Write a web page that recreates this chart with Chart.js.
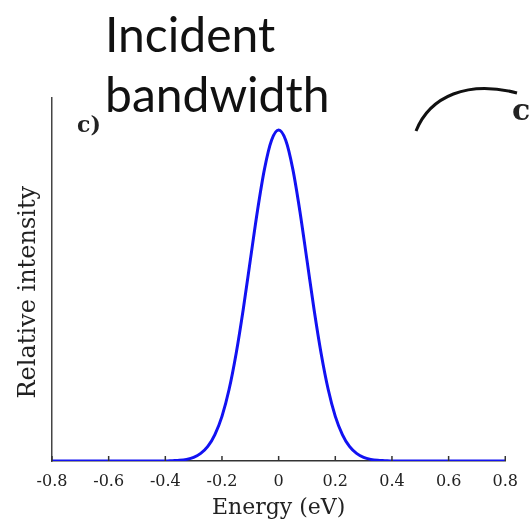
<!DOCTYPE html>
<html>
<head>
<meta charset="utf-8">
<script src="https://cdn.jsdelivr.net/npm/chart.js@4/dist/chart.umd.min.js"></script>
<style>
  html, body { margin: 0; padding: 0; background: #fff; overflow: hidden; }
  #wrap { position: relative; width: 529px; height: 522px; }
  #chart { position: absolute; left: 0; top: 0; }
  .title { position: absolute; left: 105px; font-family: Lato, "Open Sans", sans-serif; font-size: 48px; color: #111; line-height: 1; white-space: nowrap; }
  .tag { position: absolute; font-family: "DejaVu Serif", serif; font-weight: bold; color: #222; line-height: 1; }
  svg { position: absolute; left: 0; top: 0; }
</style>
</head>
<body>
<div id="wrap">
  <canvas id="chart" width="529" height="522"></canvas>
  <svg width="529" height="522">
    <path d="M416,131 C430,96 468,80 517,93" fill="none" stroke="#111" stroke-width="3"/>
  </svg>
  <div class="title" style="top:10px">Incident</div>
  <div class="title" style="top:70px">bandwidth</div>
  <div class="tag" style="left:77px; top:113px; font-size:22px">c)</div>
  <div class="tag" style="left:512px; top:95px; font-size:30px">c)</div>
</div>
<script>
// energy (eV) and relative intensity
const energies = [-0.8, -0.6, -0.45, -0.4, -0.375, -0.35, -0.325, -0.3, -0.275, -0.25, -0.225, -0.2,
  -0.175, -0.15, -0.125, -0.1, -0.075, -0.05, -0.025, 0, 0.025, 0.05, 0.075, 0.1, 0.125, 0.15,
  0.175, 0.2, 0.225, 0.25, 0.275, 0.3, 0.325, 0.35, 0.375, 0.4, 0.45, 0.6, 0.8];
const intensity = [0, 0, 0, 0, 0.001, 0.002, 0.005, 0.011, 0.023, 0.044, 0.080, 0.135,
  0.216, 0.325, 0.458, 0.607, 0.755, 0.882, 0.969, 1.0, 0.969, 0.882, 0.755, 0.607, 0.458, 0.325,
  0.216, 0.135, 0.080, 0.044, 0.023, 0.011, 0.005, 0.002, 0.001, 0, 0, 0, 0];
const xTicks = [-0.8, -0.6, -0.4, -0.2, 0, 0.2, 0.4, 0.6, 0.8];

const serif = '"DejaVu Serif", "Liberation Serif", serif';

// small tick marks pointing into the plot, plus the y label (sits a bit below centre)
const extras = {
  id: 'extras',
  afterDraw(chart) {
    const { ctx, scales: { x }, chartArea } = chart;
    ctx.save();
    ctx.strokeStyle = '#333';
    ctx.lineWidth = 1.5;
    for (const v of xTicks) {
      const px = x.getPixelForValue(v);
      ctx.beginPath();
      ctx.moveTo(px, chartArea.bottom);
      ctx.lineTo(px, chartArea.bottom - 5);
      ctx.stroke();
    }
    ctx.translate(29, chartArea.top + (chartArea.bottom - chartArea.top) * 0.535);
    ctx.rotate(-Math.PI / 2);
    ctx.fillStyle = '#222';
    ctx.font = '24px ' + serif;
    ctx.textAlign = 'center';
    ctx.textBaseline = 'middle';
    ctx.fillText('Relative intensity', 0, 0);
    ctx.restore();
  }
};

new Chart(document.getElementById('chart'), {
  type: 'line',
  data: {
    datasets: [{
      data: energies.map((e, i) => ({ x: e, y: intensity[i] })),
      borderColor: '#1212f2',
      borderWidth: 3,
      pointRadius: 0,
      fill: false,
      cubicInterpolationMode: 'monotone'
    }]
  },
  options: {
    responsive: false,
    animation: false,
    layout: { padding: { top: 98, right: 22, left: 0, bottom: 0 } },
    plugins: { legend: { display: false }, tooltip: { enabled: false } },
    scales: {
      x: {
        type: 'linear',
        min: -0.8,
        max: 0.8,
        afterBuildTicks(scale) { scale.ticks = xTicks.map(v => ({ value: v })); },
        afterFit(scale) { scale.height = 61; },
        grid: { display: false, drawTicks: false },
        border: { color: '#333', width: 1.5 },
        ticks: {
          color: '#222',
          padding: 11,
          maxRotation: 0,
          font: { family: serif, size: 16 },
          callback: v => String(v)
        },
        title: {
          display: true,
          text: 'Energy (eV)',
          color: '#222',
          font: { family: serif, size: 22 },
          padding: { top: 0, bottom: 1 }
        }
      },
      y: {
        min: 0,
        max: 1.097,
        afterFit(scale) { scale.width = 52; },
        grid: { display: false, drawTicks: false },
        border: { color: '#444', width: 1.5 },
        ticks: { display: false }
      }
    }
  },
  plugins: [extras]
});
</script>
</body>
</html>
